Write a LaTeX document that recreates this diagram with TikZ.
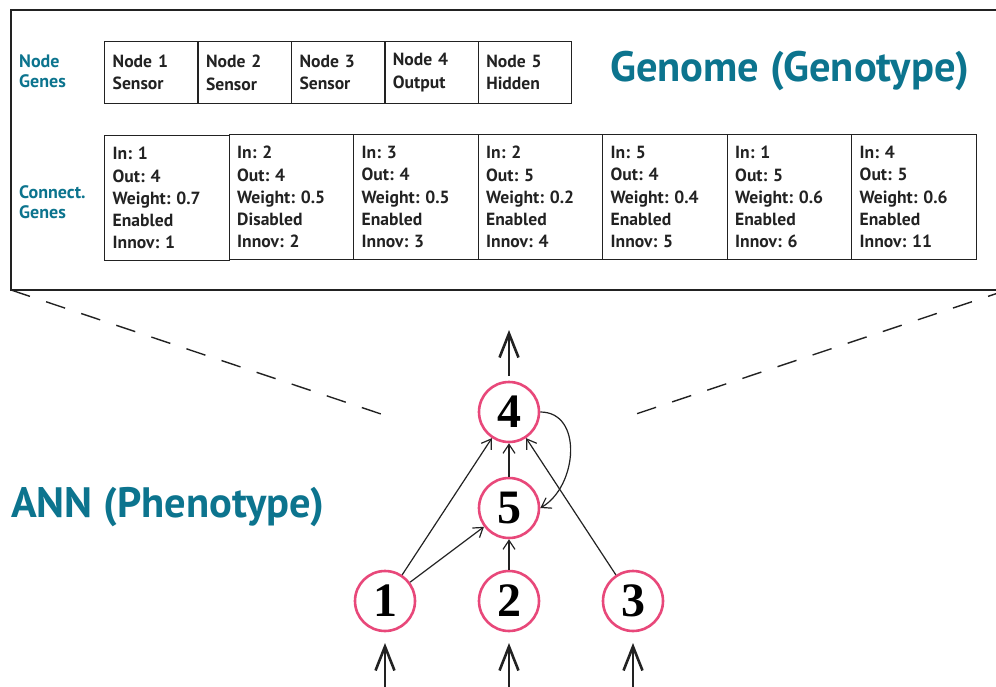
\documentclass[tikz,border=0pt]{standalone}
\usepackage{fontspec}
\setmainfont{PT Sans}
\newfontfamily\numfont{Liberation Serif}
\usetikzlibrary{arrows.meta}
\definecolor{tealc}{RGB}{12,116,142}
\definecolor{pinkc}{RGB}{232,72,122}
\definecolor{ink}{RGB}{34,34,34}
\begin{document}
\frenchspacing
\begin{tikzpicture}[x=1pt,y=-1pt,
  genebox/.style={draw=ink, line width=1.4pt, anchor=north west, inner xsep=8pt, inner ysep=0pt,
    align=left, font=\fontsize{17.6}{22.3}\selectfont\bfseries, text=ink},
  nodegene/.style={genebox, minimum width=93.4pt, minimum height=62pt, text width=77.4pt},
  conngene/.style={genebox, minimum width=124.5pt, minimum height=125pt, text width=108.5pt},
  sidelabel/.style={anchor=west, align=left, text=tealc, font=\fontsize{18}{20}\selectfont\bfseries, inner sep=0pt},
  bigtitle/.style={anchor=west, text=tealc, font=\fontsize{42.5}{44}\selectfont\bfseries, inner sep=0pt},
  neuron/.style={circle, draw=pinkc, line width=2.6pt, fill=white, minimum size=60pt, inner sep=0pt,
    font=\numfont\bfseries\fontsize{48}{48}\selectfont},
  edge/.style={draw=ink, line width=1.2pt, -{Straight Barb[length=9pt,width=12pt]}},
  io/.style={draw=ink, line width=2.6pt, -{Straight Barb[length=24pt,width=19pt,line width=2.6pt]}},
  frameline/.style={draw=ink, line width=2pt},
  zoomline/.style={draw=ink, line width=1.4pt, dash pattern=on 20pt off 17pt}
]
\useasboundingbox (0,0) rectangle (996,687);
\clip (0,0) rectangle (996,687);

% genome frame
\coordinate (fbl) at (11,290);
\coordinate (ftl) at (11,10);
\coordinate (ftr) at (1007,10);
\coordinate (fbr) at (1007,290);
\draw[frameline] (fbr) -- (fbl) -- (ftl) -- (ftr) -- cycle;

% labels
\node[sidelabel] (lblnode) at (19,71) {Node\\Genes};
\node[sidelabel] (lblconn) at (19,202) {Connect.\\Genes};
\node[bigtitle] (genome) at (610,71) {Genome (Genotype)};
\node[bigtitle] (ann) at (11,507) {ANN (Phenotype)};

% node genes
\node[nodegene] (g1) at (104.0,41) {Node 1\\Sensor};
\node[nodegene] (g2) at (197.4,41) {Node 2\\Sensor};
\node[nodegene] (g3) at (290.8,41) {Node 3\\Sensor};
\node[nodegene] (g4) at (384.2,41) {Node 4\\Output};
\node[nodegene] (g5) at (477.6,41) {Node 5\\Hidden};

% connection genes
\node[conngene] (c1) at (104.0,135) {In: 1\\Out: 4\\Weight: 0.7\\Enabled\\Innov: 1};
\node[conngene] (c2) at (228.5,134) {In: 2\\Out: 4\\Weight: 0.5\\Disabled\\Innov: 2};
\node[conngene] (c3) at (353.0,134) {In: 3\\Out: 4\\Weight: 0.5\\Enabled\\Innov: 3};
\node[conngene] (c4) at (477.5,134) {In: 2\\Out: 5\\Weight: 0.2\\Enabled\\Innov: 4};
\node[conngene] (c5) at (602.0,134) {In: 5\\Out: 4\\Weight: 0.4\\Enabled\\Innov: 5};
\node[conngene] (c6) at (726.5,134) {In: 1\\Out: 5\\Weight: 0.6\\Enabled\\Innov: 6};
\node[conngene] (c7) at (851.0,134) {In: 4\\Out: 5\\Weight: 0.6\\Enabled\\Innov: 11};

% zoom lines
\coordinate (zl) at (381,414);
\coordinate (zr) at (636,414);
\draw[zoomline] (fbl) -- (zl);
\draw[zoomline] (fbr) -- (zr);

% network
\node[neuron] (n4) at (509,412) {4};
\node[neuron] (n5) at (509,508) {5};
\node[neuron] (n1) at (385,601) {1};
\node[neuron] (n2) at (509,601) {2};
\node[neuron] (n3) at (633,601) {3};

\draw[edge] (n1) -- (n4);
\draw[edge] (n1) -- (n5);
\draw[edge] (n3) -- (n4);
\draw[edge] (n2) -- (n5);
\draw[edge] (n5) -- (n4);
\draw[edge] (n4.east) to[out=0, in=30, looseness=1.15] (n5.east);

% input / output arrows
\coordinate (i1) at (385,690);
\coordinate (i2) at (509,690);
\coordinate (i3) at (633,690);
\coordinate (t1) at (385,643);
\coordinate (t2) at (509,643);
\coordinate (t3) at (633,643);
\coordinate (o4s) at (509,376);
\coordinate (o4) at (509,330);
\draw[io] (i1) -- (t1);
\draw[io] (i2) -- (t2);
\draw[io] (i3) -- (t3);
\draw[io] (o4s) -- (o4);
\end{tikzpicture}
\end{document}
